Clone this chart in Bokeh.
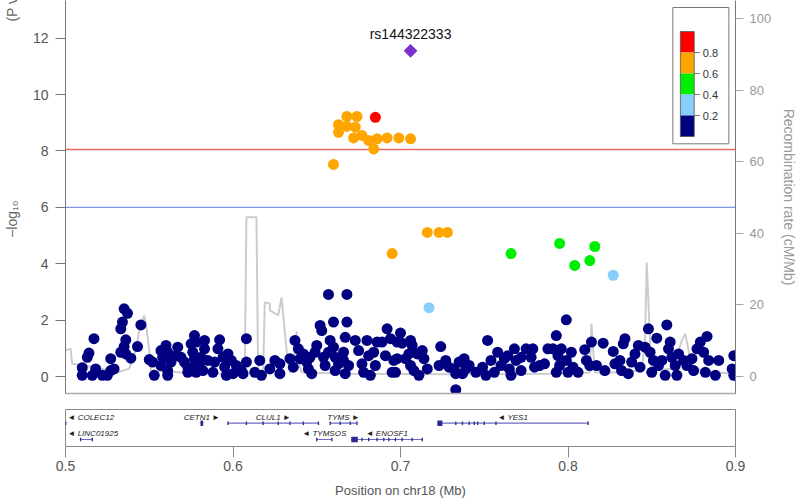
import math
from bokeh.plotting import figure
from bokeh.models import Range1d, LinearAxis, FixedTicker
from bokeh.layouts import column
from bokeh.embed import file_html
from bokeh.resources import INLINE
from bokeh.core.properties import value

FONT = "Liberation Sans"

# ---------------- data ----------------
chrom = "chr18"
region = [0.5, 0.9]
lead_snp = "rs144322333"
lead_pos = [0.706]
lead_logp = [11.55]

sig_threshold = 8.05
sugg_threshold = 6.0

# r2 >= 0.8
r2_08_pos = [0.685]
r2_08_logp = [9.19]
# 0.6 - 0.8
r2_06_pos = [0.668, 0.674, 0.663, 0.668, 0.673, 0.663, 0.672, 0.677, 0.681, 0.686,
             0.692, 0.699, 0.706, 0.684, 0.660, 0.695, 0.716, 0.723, 0.728]
r2_06_logp = [9.22, 9.22, 8.93, 8.87, 8.84, 8.66, 8.46, 8.55, 8.37, 8.43,
              8.46, 8.46, 8.43, 8.07, 7.52, 4.36, 5.11, 5.11, 5.11]
# 0.4 - 0.6
r2_04_pos = [0.766, 0.795, 0.804, 0.813, 0.816]
r2_04_logp = [4.36, 4.72, 3.94, 4.11, 4.61]
# 0.2 - 0.4
r2_02_pos = [0.717, 0.827]
r2_02_logp = [2.44, 3.59]
# < 0.2
r2_00_pos = [
    0.510, 0.510, 0.516, 0.518, 0.522, 0.525, 0.527, 0.529, 0.527, 0.513,
    0.514, 0.517, 0.535, 0.537, 0.534, 0.533, 0.536, 0.535, 0.533, 0.536,
    0.539, 0.543, 0.545, 0.550, 0.552, 0.553, 0.557, 0.560, 0.561, 0.558,
    0.557, 0.561, 0.561, 0.563, 0.567, 0.566, 0.569, 0.571, 0.573, 0.573,
    0.575, 0.577, 0.578, 0.576, 0.577, 0.577, 0.578, 0.580, 0.581, 0.583,
    0.583, 0.582, 0.585, 0.589, 0.588, 0.591, 0.592, 0.594, 0.595, 0.596,
    0.597, 0.597, 0.599, 0.600, 0.602, 0.605, 0.608, 0.608, 0.606, 0.613,
    0.616, 0.617, 0.622, 0.625, 0.628, 0.628, 0.634, 0.636, 0.637, 0.639,
    0.640, 0.642, 0.644, 0.645, 0.646, 0.647, 0.649, 0.650, 0.652, 0.653,
    0.654, 0.655, 0.657, 0.657, 0.658, 0.660, 0.660, 0.661, 0.661, 0.663,
    0.666, 0.667, 0.666, 0.667, 0.668, 0.668, 0.669, 0.673, 0.675, 0.677,
    0.678, 0.680, 0.681, 0.682, 0.684, 0.685, 0.686, 0.689, 0.691, 0.692,
    0.694, 0.695, 0.696, 0.700, 0.701, 0.698, 0.706, 0.707, 0.705, 0.698,
    0.697, 0.703, 0.706, 0.708, 0.711, 0.710, 0.713, 0.714, 0.716, 0.724,
    0.723, 0.727, 0.729, 0.732, 0.733, 0.735, 0.738, 0.739, 0.737, 0.741,
    0.733, 0.745, 0.749, 0.752, 0.751, 0.754, 0.756, 0.758, 0.760, 0.762,
    0.764, 0.765, 0.766, 0.768, 0.769, 0.772, 0.772, 0.775, 0.778, 0.779,
    0.780, 0.783, 0.786, 0.788, 0.791, 0.793, 0.794, 0.793, 0.795, 0.799,
    0.796, 0.799, 0.802, 0.803, 0.800, 0.806, 0.810, 0.811, 0.814, 0.813,
    0.817, 0.821, 0.822, 0.827, 0.828, 0.831, 0.833, 0.834, 0.832, 0.836,
    0.838, 0.840, 0.842, 0.843, 0.846, 0.848, 0.849, 0.850, 0.851, 0.853,
    0.854, 0.856, 0.858, 0.859, 0.860, 0.861, 0.862, 0.864, 0.865, 0.866,
    0.869, 0.871, 0.874, 0.875, 0.877, 0.879, 0.883, 0.881, 0.882, 0.884,
    0.888, 0.890, 0.899, 0.898, 0.899]
r2_00_logp = [
    0.04, 0.31, 0.04, 0.27, 0.04, 0.04, 0.21, 0.27, 0.63, 0.68,
    0.83, 1.34, 2.40, 2.24, 1.93, 1.69, 1.30, 1.06, 0.86, 0.80,
    0.65, 1.06, 1.83, 0.60, 0.51, 0.04, 0.92, 1.10, 0.86, 0.68,
    0.39, 0.21, 0.04, 0.51, 1.04, 0.74, 0.68, 0.51, 0.33, 0.15,
    1.16, 1.45, 1.22, 0.86, 0.63, 0.35, 0.15, 0.45, 0.68, 1.28,
    0.98, 0.21, 0.57, 0.51, 0.15, 0.98, 1.30, 0.68, 0.33, 0.04,
    0.57, 0.80, 0.57, 0.10, 0.39, 0.21, 0.51, 1.34, 0.10, 0.15,
    0.57, 0.04, 0.27, 0.57, 0.45, 0.10, 0.63, 0.33, 1.28, 0.98,
    0.63, 0.80, 0.51, 0.27, 0.68, 0.10, 0.86, 1.10, 1.81, 1.63,
    0.68, 0.39, 2.91, 0.86, 1.28, 1.04, 1.93, 0.68, 0.21, 0.45,
    0.86, 1.39, 0.57, 0.10, 2.91, 1.93, 0.39, 1.28, 0.92, 0.45,
    0.15, 1.28, 0.74, 0.04, 0.86, 0.39, 1.22, 1.22, 0.74, 1.69,
    1.34, 0.15, 0.57, 1.54, 1.18, 1.22, 1.28, 1.10, 0.80, 0.63,
    0.15, 0.63, 0.39, 0.21, 0.04, 0.80, 0.92, 0.63, 0.27, 1.06,
    0.39, 0.57, 0.33, 0.27, 0.10, 0.51, 0.63, 0.27, 0.10, 0.39,
    -0.47, 0.15, 0.33, 1.28, 0.04, 0.57, 0.15, 0.86, 0.39, 0.63,
    0.74, 0.27, 0.04, 0.98, 0.57, 0.68, 0.21, 0.98, 0.68, 0.98,
    0.33, 0.39, 0.45, 0.98, 0.98, 1.45, 0.74, 0.15, 0.39, 2.01,
    0.98, 0.57, 0.86, 0.33, 0.15, 0.15, 0.95, 0.57, 1.22, 0.39,
    0.39, 1.18, 0.21, 0.89, 0.45, 0.57, 1.16, 1.34, 0.21, 0.10,
    0.51, 0.80, 1.10, 0.33, 1.04, 1.69, 0.86, 0.15, 0.57, 1.36,
    0.39, 0.57, 0.04, 1.83, 0.98, 1.22, 0.68, 0.39, 0.04, 0.80,
    0.57, 0.39, 0.63, 0.21, 0.98, 1.22, 1.42, 0.86, 0.15, 0.57,
    0.04, 0.57, 0.74, 0.27, 0.04]

# recombination rate (cM/Mb)
recomb_pos = [0.500, 0.503, 0.504, 0.510, 0.518, 0.531, 0.538, 0.542, 0.544, 0.547,
              0.548, 0.550, 0.551, 0.569, 0.593, 0.607, 0.608, 0.614, 0.615, 0.618,
              0.619, 0.622, 0.622, 0.627, 0.629, 0.632, 0.634, 0.636, 0.638, 0.639,
              0.641, 0.670, 0.729, 0.794, 0.813, 0.814, 0.816, 0.829, 0.844, 0.846,
              0.847, 0.849, 0.850, 0.862, 0.866, 0.868, 0.870, 0.872, 0.875, 0.888,
              0.900]
recomb_rate = [7.3, 7.8, 3.6, 3.1, 2.5, 1.1, 2.2, 7.3, 12.9, 17.1,
               14.8, 7.3, 1.7, 1.1, 0.8, 0.8, 44.5, 44.5, 1.7, 1.1,
               20.7, 20.4, 18.5, 17.1, 22.1, 7.3, 1.1, 2.2, 12.6, 4.5,
               1.1, 0.8, 0.6, 0.8, 1.1, 14.8, 1.1, 1.1, 1.7, 10.1,
               31.9, 10.1, 1.7, 2.2, 7.3, 10.1, 12.0, 7.3, 2.2, 1.1,
               0.8]

# genes
gene_name = ["COLEC12", "CETN1", "CLUL1", "TYMS", "YES1", "LINC01925", "TYMSOS", "ENOSF1"]
gene_start = [0.470, 0.5806, 0.597, 0.658, 0.722, 0.509, 0.650, 0.6706]
gene_end = [0.5003, 0.5822, 0.651, 0.674, 0.812, 0.516, 0.659, 0.713]
gene_strand = ["-", "+", "+", "+", "-", "-", "-", "-"]
gene_row = [1, 1, 1, 1, 1, 2, 2, 2]
exon_gene = ([0] + [1] + [2] * 7 + [3] * 4 + [4] * 9 + [5] * 2 + [6] * 2 + [7] * 10)
exon_start = [0.5000,
              0.5806,
              0.597, 0.608, 0.618, 0.627, 0.634, 0.642, 0.651,
              0.658, 0.664, 0.670, 0.674,
              0.722, 0.733, 0.737, 0.741, 0.744, 0.746, 0.750, 0.757, 0.812,
              0.509, 0.516,
              0.650, 0.659,
              0.6706, 0.677, 0.681, 0.686, 0.690, 0.693, 0.697, 0.701, 0.707, 0.713]
exon_end = [0.5003,
            0.5822,
            0.597, 0.608, 0.618, 0.627, 0.634, 0.642, 0.651,
            0.658, 0.664, 0.670, 0.674,
            0.725, 0.733, 0.737, 0.741, 0.744, 0.746, 0.750, 0.757, 0.812,
            0.509, 0.516,
            0.650, 0.659,
            0.6745, 0.677, 0.681, 0.686, 0.690, 0.693, 0.697, 0.701, 0.707, 0.713]

legend_breaks = [1.0, 0.8, 0.6, 0.4, 0.2, 0.0]
legend_colors = ["#FF0000", "#FFA500", "#00EE00", "#87CEFA", "#000080"]
legend_labels = ["0.8", "0.6", "0.4", "0.2"]

# ---------------- layout helpers (page pixel -> main-plot coordinates) ----------------
X0, Y0, PX_PER_MB, PX_PER_UNIT = 63.0, 376.0, 1692.5, 28.2
def lx(px):
    return 0.5 + (px - X0) / PX_PER_MB
def ly(py):
    return (Y0 - py) / PX_PER_UNIT

y_lo, y_hi = ly(393), ly(0)
recomb_scale = 100.0 / ly(18.4)

xr = Range1d(region[0], region[1])
p = figure(width=800, height=409, x_range=xr, y_range=Range1d(y_lo, y_hi),
           output_backend="svg", toolbar_location=None,
           min_border_left=63, min_border_right=60, min_border_top=0, min_border_bottom=16)
p.extra_y_ranges = {"recomb": Range1d(y_lo * recomb_scale, y_hi * recomb_scale)}
p.grid.visible = False
p.outline_line_color = None

NB = "\u00A0"
left_title = NB * 49 + "\u2212log\u2081\u2080" + NB * 46 + "(P value)"

# left axis
ya = p.yaxis[0]
ya.ticker = FixedTicker(ticks=[0, 2, 4, 6, 8, 10, 12])
ya.axis_line_color = "#777777"
ya.major_tick_line_color = "#777777"
ya.major_tick_out = 10
ya.major_tick_in = 0
ya.minor_tick_line_color = None
ya.major_label_standoff = 7
ya.major_label_text_font = FONT
ya.major_label_text_font_size = "14px"
ya.major_label_text_color = "#555555"
ya.axis_label = left_title
ya.axis_label_standoff = 10
ya.axis_label_text_font = FONT
ya.axis_label_text_font_size = "14px"
ya.axis_label_text_font_style = "normal"
ya.axis_label_text_color = "#666666"

# bottom of main panel: line only
xa = p.xaxis[0]
xa.ticker = FixedTicker(ticks=[])
xa.major_tick_line_color = None
xa.minor_tick_line_color = None
xa.axis_line_color = "#AAAAAA"
xa.axis_line_width = 1.5

# right axis
ra = LinearAxis(y_range_name="recomb", ticker=FixedTicker(ticks=[0, 20, 40, 60, 80, 100]))
ra.axis_line_color = "#777777"
ra.major_tick_line_color = "#AAAAAA"
ra.major_tick_out = 8
ra.major_tick_in = 0
ra.minor_tick_line_color = None
ra.major_label_standoff = 6
ra.major_label_text_font = FONT
ra.major_label_text_font_size = "13px"
ra.major_label_text_color = "#999999"
ra.axis_label = "Recombination rate (cM/Mb)"
ra.axis_label_standoff = 7
ra.axis_label_text_font = FONT
ra.axis_label_text_font_size = "14px"
ra.axis_label_text_font_style = "normal"
ra.axis_label_text_color = "#999999"
p.add_layout(ra, "right")

# recombination line
p.line(recomb_pos, recomb_rate, y_range_name="recomb", line_color="#CCCCCC", line_width=2)

# threshold lines
p.segment(x0=[region[0]], x1=[region[1]], y0=[sig_threshold], y1=[sig_threshold],
          line_color="#EE6A6A", line_width=1.3)
p.segment(x0=[region[0]], x1=[region[1]], y0=[sugg_threshold], y1=[sugg_threshold],
          line_color="#7D97E6", line_width=1.3)

# points
p.scatter(r2_00_pos, r2_00_logp, size=11, fill_color="#000080", line_color=None)
p.scatter(r2_02_pos, r2_02_logp, size=11, fill_color="#87CEFA", line_color=None)
p.scatter(r2_04_pos, r2_04_logp, size=11, fill_color="#00EE00", line_color=None)
p.scatter(r2_06_pos, r2_06_logp, size=11, fill_color="#FFA500", line_color=None)
p.scatter(r2_08_pos, r2_08_logp, size=11, fill_color="#FF0000", line_color=None)
p.scatter(lead_pos, lead_logp, marker="square", angle=math.pi / 4, size=9,
          fill_color="#7B2FD0", line_color="#7B2FD0")
p.text(lead_pos, lead_logp, text=[lead_snp], y_offset=-9, text_align="center",
       text_baseline="bottom", text_font=value(FONT), text_font_size="14px", text_color="#111111")

# legend box
p.quad(left=[lx(676.7)], right=[lx(733.3)], top=[ly(7)], bottom=[ly(143.3)],
       fill_color="white", line_color="#777777", line_width=1)
bar_top, bar_h = 31.0, 105.0
seg_top = [ly(bar_top + (1 - b) * bar_h) for b in legend_breaks[:-1]]
seg_bot = [ly(bar_top + (1 - b) * bar_h) for b in legend_breaks[1:]]
p.quad(left=[lx(684.3)] * 5, right=[lx(698.3)] * 5, top=seg_top, bottom=seg_bot,
       fill_color=legend_colors, line_color=None)
p.quad(left=[lx(684.3)], right=[lx(698.3)], top=[seg_top[0]], bottom=[seg_bot[-1]],
       fill_color=None, line_color="#555555", line_width=0.8)
lab_y = [ly(bar_top + (1 - b) * bar_h) for b in legend_breaks[1:-1]]
p.segment(x0=[lx(698.3)] * 4, x1=[lx(704)] * 4, y0=lab_y, y1=lab_y, line_color="#555555", line_width=0.8)
p.text([lx(707)] * 4, lab_y, text=legend_labels, text_align="left", text_baseline="middle",
       text_font=value(FONT), text_font_size="11px", text_color="#333333")

# ---------------- gene panel ----------------
g = figure(width=800, height=92, x_range=xr, y_range=Range1d(2.43, 0.16),
           output_backend="svg", toolbar_location=None,
           min_border_left=63, min_border_right=60, min_border_top=0, min_border_bottom=55)
g.grid.visible = False
g.yaxis.visible = False
g.outline_line_color = "#888888"
gx = g.xaxis[0]
gx.ticker = FixedTicker(ticks=[0.5, 0.6, 0.7, 0.8, 0.9])
gx.axis_line_color = None
gx.major_tick_line_color = "#888888"
gx.major_tick_out = 11
gx.major_tick_in = 0
gx.minor_tick_line_color = None
gx.major_label_standoff = 3
gx.major_label_text_font = FONT
gx.major_label_text_font_size = "14px"
gx.major_label_text_color = "#555555"
gx.axis_label = "Position on " + chrom + " (Mb)"
gx.axis_label_standoff = 9
gx.axis_label_text_font = FONT
gx.axis_label_text_font_size = "13px"
gx.axis_label_text_font_style = "normal"
gx.axis_label_text_color = "#555555"

g.segment(x0=gene_start, x1=gene_end, y0=gene_row, y1=gene_row, line_color="#6A6AC0", line_width=1.2)
ex_x = [(s + e) / 2 for s, e in zip(exon_start, exon_end)]
ex_w = [max(e - s, 0.0008) for s, e in zip(exon_start, exon_end)]
ex_y = [gene_row[i] for i in exon_gene]
ex_h = [0.34 if (e - s) > 0.001 else 0.22 for s, e in zip(exon_start, exon_end)]
g.rect(x=ex_x, y=ex_y, width=ex_w, height=ex_h, fill_color="#2A2A90", line_color=None)

lab_c_x, lab_c_y, lab_c_t = [], [], []
lab_l_x, lab_l_y, lab_l_t = [], [], []
for n, s, e, st, r in zip(gene_name, gene_start, gene_end, gene_strand, gene_row):
    t = ("\u25C4 " + n) if st == "-" else (n + " \u25BA")
    if s < 0.52:
        lab_l_x.append(0.5012); lab_l_y.append(r - 0.37); lab_l_t.append(t)
    else:
        lab_c_x.append((s + e) / 2); lab_c_y.append(r - 0.37); lab_c_t.append(t)
g.text(lab_c_x, lab_c_y, text=lab_c_t, text_align="center", text_baseline="middle",
       text_font=value(FONT), text_font_size="8px", text_font_style="italic", text_color="#222222")
g.text(lab_l_x, lab_l_y, text=lab_l_t, text_align="left", text_baseline="middle",
       text_font=value(FONT), text_font_size="8px", text_font_style="italic", text_color="#222222")

layout = column(p, g)
open("out.html", "w").write(file_html(layout, INLINE))
